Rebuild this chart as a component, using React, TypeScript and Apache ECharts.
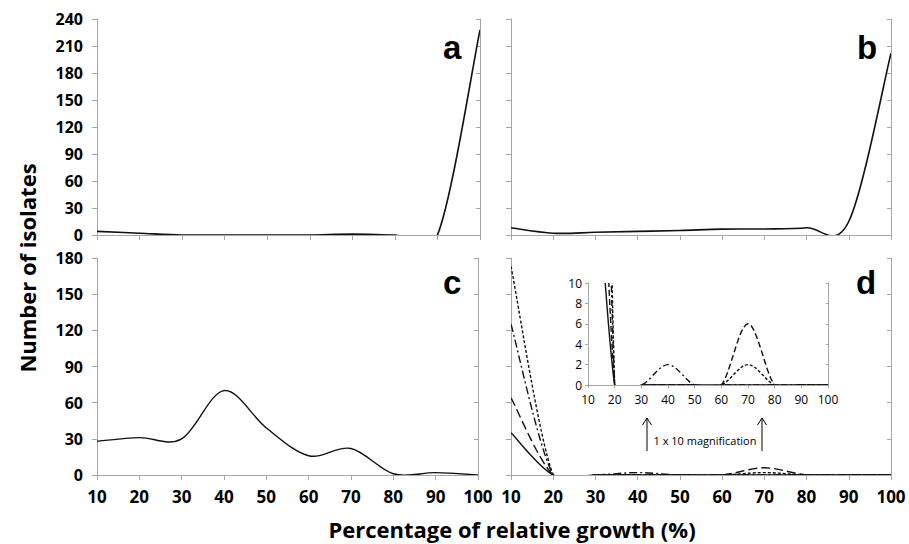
import React, { useEffect, useRef } from "react";
import * as echarts from "echarts";

// ---- data ----
const xs = [10, 20, 30, 40, 50, 60, 70, 80, 90, 100];
const panelA = [4, 2, 0, 0, 0, 0, 1, 0, 0, 228];
const panelB = [8, 2, 3, 4, 5, 6.5, 6.7, 8, 15, 202];
const panelC = [28, 31, 30, 70, 39, 16, 22, 1, 2, 0];
const dSolid = [35, 0, 0, 0, 0, 0, 0, 0, 0, 0];
const dLongDash = [64, 0, 0, 0, 0, 0, 6, 0, 0, 0];
const dDashDot = [125, 0, 0, 2, 0, 0, 0, 0, 0, 0];
const dShortDash = [173, 0, 0, 0, 0, 0, 2, 0, 0, 0];
const yTicksTop = [0, 30, 60, 90, 120, 150, 180, 210, 240];
const yTicksBottom = [0, 30, 60, 90, 120, 150, 180];
const yTicksInset = [0, 2, 4, 6, 8, 10];

const AXIS_GRAY = "#a6a6a6";
const FONT = "'Open Sans', 'Noto Sans', sans-serif";

function pairs(arr: number[]) {
  return xs.map((x, i) => [x, arr[i]]);
}

export default function App() {
  const ref = useRef<HTMLDivElement>(null);

  useEffect(() => {
    if (!ref.current) return;
    const chart = echarts.init(ref.current, undefined, { renderer: "svg" });

    const grids = [
      { left: 97, top: 19, width: 383, height: 216 },
      { left: 511, top: 19, width: 380, height: 216 },
      { left: 97, top: 258, width: 381, height: 217 },
      { left: 511, top: 258, width: 380, height: 217 },
      { left: 588, top: 283, width: 240, height: 102 },
    ];

    const xAxes: any[] = [];
    const yAxes: any[] = [];

    const cfg = [
      { yTicks: yTicksTop, showX: false, showY: true, inset: false },
      { yTicks: yTicksTop, showX: false, showY: false, inset: false },
      { yTicks: yTicksBottom, showX: true, showY: true, inset: false },
      { yTicks: yTicksBottom, showX: true, showY: false, inset: false },
      { yTicks: yTicksInset, showX: true, showY: true, inset: true },
    ];

    cfg.forEach((c, g) => {
      const yMax = c.yTicks[c.yTicks.length - 1];
      const yInt = c.yTicks[1] - c.yTicks[0];
      const tickLen = c.inset ? 3 : 5;
      const labelStyle = c.inset
        ? { fontFamily: FONT, fontSize: 12, color: "#000" }
        : { fontFamily: FONT, fontSize: 17, fontWeight: "bold", color: "#000" };
      const yLabelStyle = c.inset
        ? { fontFamily: FONT, fontSize: 12, color: "#000" }
        : { fontFamily: FONT, fontSize: 16, fontWeight: "bold", color: "#000" };
      const line = { show: true, lineStyle: { color: AXIS_GRAY, width: 1 } };
      xAxes.push({
        type: "value",
        gridIndex: g,
        position: "bottom",
        min: xs[0],
        max: xs[xs.length - 1],
        interval: 10,
        axisLine: line,
        axisTick: { show: true, inside: false, length: tickLen, lineStyle: { color: AXIS_GRAY } },
        axisLabel: { show: c.showX, margin: c.inset ? 8 : 13, showMinLabel: true, showMaxLabel: true, ...labelStyle },
        splitLine: { show: false },
      });
      xAxes.push({
        type: "value",
        gridIndex: g,
        position: "top",
        min: xs[0],
        max: xs[xs.length - 1],
        interval: 10,
        axisLine: line,
        axisTick: { show: true, inside: true, length: tickLen - 1, lineStyle: { color: AXIS_GRAY } },
        axisLabel: { show: false },
        splitLine: { show: false },
      });
      yAxes.push({
        type: "value",
        gridIndex: g,
        position: "left",
        min: 0,
        max: yMax,
        interval: yInt,
        axisLine: line,
        axisTick: { show: true, inside: false, length: tickLen, lineStyle: { color: AXIS_GRAY } },
        axisLabel: { show: c.showY, margin: c.inset ? 6 : 14, ...yLabelStyle },
        splitLine: { show: false },
      });
      yAxes.push({
        type: "value",
        gridIndex: g,
        position: "right",
        min: 0,
        max: yMax,
        interval: yInt,
        axisLine: line,
        axisTick: { show: true, inside: true, length: tickLen - 1, lineStyle: { color: AXIS_GRAY } },
        axisLabel: { show: false },
        splitLine: { show: false },
      });
    });

    // Smoothed line drawn like a spreadsheet's smoothed line (Catmull-Rom Bezier),
    // positions from the library's coordinate system via api.coord.
    const mk = (g: number, arr: number[], dash: number[] | null, width = 1.5) => {
      const data = pairs(arr);
      return {
        type: "custom",
        xAxisIndex: 2 * g,
        yAxisIndex: 2 * g,
        data,
        clip: true,
        silent: true,
        renderItem: (params: any, api: any) => {
          if (params.dataIndex !== 0) return null;
          const p = data.map((d) => api.coord(d));
          const n = p.length;
          let d = `M${p[0][0]},${p[0][1]}`;
          for (let i = 0; i < n - 1; i++) {
            const p0 = p[Math.max(0, i - 1)];
            const p1 = p[i];
            const p2 = p[i + 1];
            const p3 = p[Math.min(n - 1, i + 2)];
            const c1x = p1[0] + (p2[0] - p0[0]) / 6;
            const c1y = p1[1] + (p2[1] - p0[1]) / 6;
            const c2x = p2[0] - (p3[0] - p1[0]) / 6;
            const c2y = p2[1] - (p3[1] - p1[1]) / 6;
            d += ` C${c1x},${c1y} ${c2x},${c2y} ${p2[0]},${p2[1]}`;
          }
          return {
            type: "path",
            shape: { pathData: d },
            style: {
              stroke: "#111",
              lineWidth: width,
              fill: null,
              lineDash: dash || undefined,
            },
          };
        },
      };
    };

    const dLines: [number[], number[] | null][] = [
      [dSolid, null],
      [dLongDash, [9, 4]],
      [dDashDot, [8, 3, 2, 3]],
      [dShortDash, [3, 2]],
    ];
    const insetLines: [number[], number[] | null][] = [
      [dSolid, null],
      [dLongDash, [6, 3]],
      [dDashDot, [6, 3, 2, 3]],
      [dShortDash, [3, 2]],
    ];

    const series: any[] = [
      mk(0, panelA, null, 1.6),
      mk(1, panelB, null, 1.6),
      mk(2, panelC, null, 1.4),
      ...dLines.map(([a, t]) => mk(3, a, t, 1.4)),
      ...insetLines.map(([a, t]) => mk(4, a, t, 1.4)),
    ];

    const letter = (t: string, x: number, y: number) => ({
      type: "text",
      x,
      y,
      style: {
        text: t,
        fill: "#000",
        font: "bold 33px 'Liberation Sans', Arial, sans-serif",
        textAlign: "left",
        textVerticalAlign: "middle",
      },
    });

    const arrow = (x: number) => [
      {
        type: "line",
        shape: { x1: x, y1: 451, x2: x, y2: 418 },
        style: { stroke: "#000", lineWidth: 1 },
      },
      {
        type: "polyline",
        shape: { points: [[x - 4.5, 425], [x, 418], [x + 4.5, 425]] },
        style: { stroke: "#000", lineWidth: 1, fill: null },
      },
    ];

    chart.setOption({
      animation: false,
      backgroundColor: "#fff",
      grid: grids.map((g, i) =>
        i === 4
          ? { ...g, show: true, backgroundColor: "#fff", borderWidth: 0 }
          : { ...g }
      ),
      xAxis: xAxes,
      yAxis: yAxes,
      series,
      graphic: [
        letter("a", 443, 47.5),
        letter("b", 857, 47.5),
        letter("c", 443, 282),
        letter("d", 856, 282),
        {
          type: "text",
          x: 512,
          y: 529,
          style: {
            text: "Percentage of relative growth (%)",
            fill: "#000",
            font: `bold 22px ${FONT}`,
            textAlign: "center",
            textVerticalAlign: "middle",
          },
        },
        {
          type: "text",
          x: 27,
          y: 268,
          rotation: Math.PI / 2,
          style: {
            text: "Number of isolates",
            fill: "#000",
            font: `bold 22px ${FONT}`,
            textAlign: "center",
            textVerticalAlign: "middle",
          },
        },
        ...arrow(647),
        ...arrow(762),
        {
          type: "text",
          x: 705,
          y: 440,
          style: {
            text: "1 x 10 magnification",
            fill: "#000",
            font: `11px ${FONT}`,
            textAlign: "center",
            textVerticalAlign: "middle",
          },
        },
      ],
    });

    return () => chart.dispose();
  }, []);

  return (
    <div
      ref={ref}
      style={{ position: "fixed", left: 0, top: 0, width: 909, height: 544 }}
    />
  );
}
